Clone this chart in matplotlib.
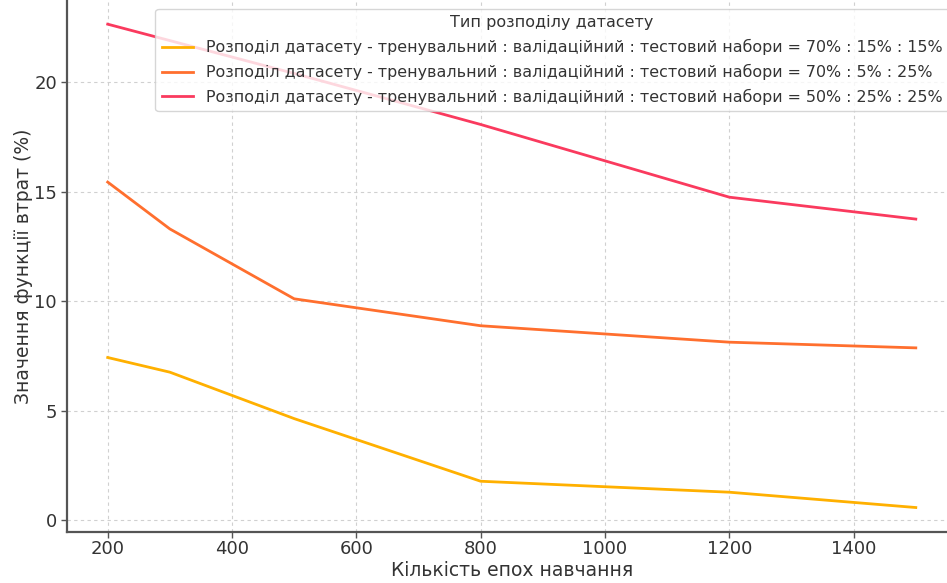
import matplotlib
matplotlib.use("Agg")
import matplotlib.pyplot as plt

# Training epochs and loss values (%) for each dataset split
epochs = [200, 300, 500, 800, 1200, 1500]
loss_70_15_15 = [7.43, 6.76, 4.64, 1.78, 1.28, 0.58]
loss_70_5_25 = [15.44, 13.3, 10.11, 8.88, 8.13, 7.87]
loss_50_25_25 = [22.65, 21.9, 20.4, 18.07, 14.75, 13.75]

series_labels = [
    "Розподіл датасету - тренувальний : валідаційний : тестовий набори = 70% : 15% : 15%",
    "Розподіл датасету - тренувальний : валідаційний : тестовий набори = 70% : 5% : 25%",
    "Розподіл датасету - тренувальний : валідаційний : тестовий набори = 50% : 25% : 25%",
]
series_colors = ["#FFB000", "#FF6F2E", "#FA3A5E"]
x_label = "Кількість епох навчання"
y_label = "Значення функції втрат (%)"
legend_title = "Тип розподілу датасету"

text_color = "#333333"
plt.rcParams["font.family"] = ["DejaVu Sans"]

fig = plt.figure(figsize=(9.47, 5.83), dpi=100)
ax = fig.add_axes([67.3 / 947, 51.3 / 583, 888.9 / 947, 531.7 / 583])

for values, label, color in zip([loss_70_15_15, loss_70_5_25, loss_50_25_25],
                                series_labels, series_colors):
    ax.plot(epochs, values, color=color, linewidth=2, label=label)

ax.margins(x=0.05, y=0.05)
ax.set_xticks([200, 400, 600, 800, 1000, 1200, 1400])
ax.set_yticks([0, 5, 10, 15, 20])

ax.grid(True, linestyle=(0, (3, 3)), color="#d0d0d0", linewidth=0.8)
ax.set_axisbelow(True)

for side in ["top", "right"]:
    ax.spines[side].set_visible(False)
for side in ["left", "bottom"]:
    ax.spines[side].set_color("#555555")
    ax.spines[side].set_linewidth(1.6)

ax.tick_params(axis="both", labelsize=13, colors=text_color, length=4,
               width=1, color="#555555")
ax.tick_params(axis="x", pad=2)
ax.set_xlabel(x_label, fontsize=13.5, color=text_color, labelpad=2)
ax.set_ylabel(y_label, fontsize=13.5, color=text_color, labelpad=1)

leg = ax.legend(title=legend_title, fontsize=11.4, title_fontsize=11.5,
                loc="upper right", bbox_to_anchor=(949 / 947, 1 - 9 / 583),
                bbox_transform=fig.transFigure, frameon=True,
                borderaxespad=0.0, handlelength=2.0, labelspacing=0.55,
                handletextpad=0.8)
leg.get_frame().set_edgecolor("#cccccc")
leg.get_frame().set_alpha(0.8)
for t in leg.get_texts():
    t.set_color(text_color)
leg.get_title().set_color(text_color)

fig.savefig("out.png", dpi=100)
